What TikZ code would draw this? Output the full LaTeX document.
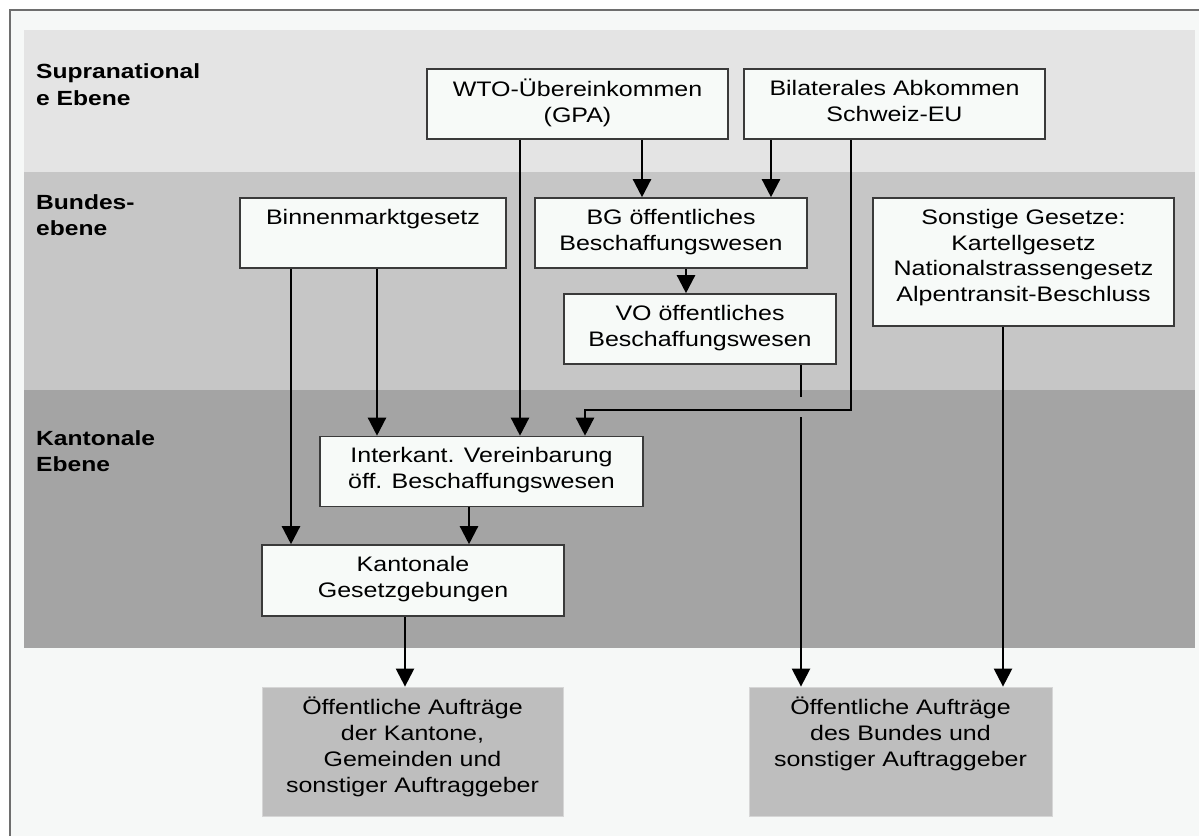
\documentclass[tikz,border=0pt]{standalone}
\usepackage{fontspec}
\setmainfont{Liberation Sans}
\newfontfamily\boxfont{Liberation Sans}[FakeStretch=1.19]
\newfontfamily\labfont{Liberation Sans}[FakeStretch=1.2]
\usetikzlibrary{arrows.meta}
\definecolor{pagebg}{HTML}{F6F8F7}
\definecolor{framec}{HTML}{6E6E6E}
\definecolor{bandA}{HTML}{E4E4E4}
\definecolor{bandB}{HTML}{C6C6C6}
\definecolor{bandC}{HTML}{A4A4A4}
\definecolor{boxfill}{HTML}{F7FAF8}
\definecolor{boxline}{HTML}{3A3A3A}
\definecolor{grayfill}{HTML}{BEBEBE}
\definecolor{grayline}{HTML}{D6D6D6}
\tikzset{
  box/.style={draw=boxline, fill=boxfill, line width=1.6pt, inner sep=0pt,
    align=center, font=\boxfont\fontsize{21pt}{25.8pt}\selectfont,
    execute at begin node={\rule{0pt}{21pt}}},
  twoline/.style={execute at end node={\rule[-6.7pt]{0pt}{6.7pt}}},
  fourline/.style={execute at end node={\rule[-13.3pt]{0pt}{13.3pt}}},
  graybox/.style={box, draw=grayline, line width=0.8pt, fill=grayfill},
  lab/.style={anchor=north west, inner sep=0pt, align=left,
    font=\labfont\bfseries\fontsize{20.5pt}{26.5pt}\selectfont,
    execute at begin node={\rule{0pt}{21pt}}},
  arr/.style={line width=2.4pt, -{Triangle[width=18pt,length=18pt]}},
  con/.style={line width=2.4pt}
}
\begin{document}
\begin{tikzpicture}[x=1pt,y=-1pt]
\useasboundingbox (0,0) rectangle (1199,836);
\fill[white] (0,0) rectangle (1199,836);
\fill[pagebg] (11,11) rectangle (1199,836);
\draw[framec, line width=2pt] (10,836) -- (10,10) -- (1199,10);
% bands
\fill[bandA] (24,30) rectangle (1195,172);
\fill[bandB] (24,172) rectangle (1195,390);
\fill[bandC] (24,390) rectangle (1195,648);
% level labels
\node[lab] (l1) at (36,63.5) {Supranational\\e Ebene};
\node[lab] (l2) at (36,194) {Bundes-\\ebene};
\node[lab] (l3) at (36,430) {Kantonale\\Ebene};
% boxes
\node[box, twoline, minimum width=301pt, minimum height=70pt] (wto) at (577.5,104) {WTO-Übereinkommen\\(GPA)};
\node[box, twoline, minimum width=301pt, minimum height=70pt] (bil) at (894.5,104) {Bilaterales Abkommen\\Schweiz-EU};
\node[box, twoline, minimum width=266pt, minimum height=70pt] (binnen) at (373,233) {Binnenmarktgesetz\\\mbox{}};
\node[box, twoline, minimum width=272pt, minimum height=70pt] (bg) at (671,233) {BG öffentliches\\Beschaffungswesen};
\node[box, twoline, minimum width=272pt, minimum height=70pt] (vo) at (700,329) {VO öffentliches\\Beschaffungswesen};
\node[box, fourline, minimum width=301pt, minimum height=128pt] (sonst) at (1023.5,262) {Sonstige Gesetze:\\Kartellgesetz\\Nationalstrassengesetz\\Alpentransit-Beschluss};
\node[box, twoline, minimum width=323pt, minimum height=70pt] (inter) at (481.5,471.5) {Interkant. Vereinbarung\\öff. Beschaffungswesen};
\node[box, twoline, minimum width=302pt, minimum height=71pt] (kant) at (413,580.5) {Kantonale\\Gesetzgebungen};
\node[graybox, fourline, minimum width=301pt, minimum height=129pt] (aufk) at (412.5,751.5) {Öffentliche Aufträge\\der Kantone,\\Gemeinden und\\sonstiger Auftraggeber};
\node[graybox, fourline, minimum width=303pt, minimum height=129pt] (aufb) at (900.5,751.5) {Öffentliche Aufträge\\des Bundes und\\sonstiger Auftraggeber\\\mbox{}};
% column helpers
\coordinate (ca) at (642,0);
\coordinate (cb) at (771,0);
\coordinate (cc) at (520,0);
\coordinate (cd) at (851,0);
\coordinate (cd2) at (585,0);
\coordinate (cy) at (0,410);
\coordinate (ce) at (377,0);
\coordinate (cf) at (291,0);
\coordinate (cg) at (686,0);
\coordinate (ch) at (469,0);
\coordinate (ci) at (405,0);
\coordinate (cj) at (801,0);
\coordinate (ck) at (1003,0);
\coordinate (gapTop) at (801,397);
\coordinate (gapBot) at (801,417);
% connectors
\draw[arr] (wto.south -| ca) -- (bg.north -| ca);
\draw[arr] (bil.south -| cb) -- (bg.north -| cb);
\draw[arr] (wto.south -| cc) -- (inter.north -| cc);
\draw[arr] (bil.south -| cd) -- (cd |- cy) -- (cd2 |- cy) -- (inter.north -| cd2);
\draw[arr] (binnen.south -| ce) -- (inter.north -| ce);
\draw[arr] (binnen.south -| cf) -- (kant.north -| cf);
\draw[arr] (bg.south -| cg) -- (vo.north -| cg);
\draw[arr] (inter.south -| ch) -- (kant.north -| ch);
\draw[arr] (kant.south -| ci) -- (aufk.north -| ci);
\draw[con] (vo.south -| cj) -- (gapTop);
\draw[arr] (gapBot) -- (aufb.north -| cj);
\draw[arr] (sonst.south -| ck) -- (aufb.north -| ck);
\end{tikzpicture}
\end{document}
